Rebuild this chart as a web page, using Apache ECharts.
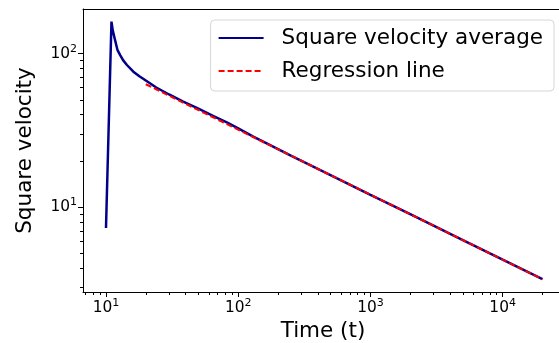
<!DOCTYPE html>
<html><head><meta charset="utf-8">
<script src="https://cdn.jsdelivr.net/npm/echarts@6/dist/echarts.min.js"></script>
<style>html,body{margin:0;padding:0;background:#fff}#c{width:559px;height:343px}</style>
</head><body><div id="c"></div>
<script>
// Data
const timeValues = [10, 11, 11.25, 11.7, 12.2, 12.8, 13.5, 14.4, 16.1, 18, 20, 24, 30, 38, 50, 65, 82, 100, 130, 170, 250, 400, 1000, 2000, 5000, 10000, 20000];
const velocityValues = [7.3, 162, 142, 123, 106, 98, 90.5, 84.4, 76.3, 71, 66.8, 60.2, 54.2, 48.8, 43.8, 39.2, 35.6, 32.6, 28.8, 25.6, 21.6, 17.7, 12.0, 8.97, 6.08, 4.53, 3.38];
const regressionTime = [20, 20000];
const regressionValues = [63.2, 3.38];
const xRange = [6.7, 28600];
const yRange = [2.79, 195.7];
const xMajorTicks = [10, 100, 1000, 10000];
const yMajorTicks = [10, 100];

const font = 'DejaVu Sans';
function minorLogs(lo, hi) {
  const out = [];
  for (let e = Math.floor(Math.log10(lo)); e <= Math.ceil(Math.log10(hi)); e++) {
    for (let k = 2; k <= 9; k++) {
      const v = k * Math.pow(10, e);
      if (v >= lo && v <= hi) out.push(Math.log10(v));
    }
  }
  return out;
}
const supFmt = v => '{b|10}{s|' + Math.round(Math.log10(v)) + '}';
const rich = {
  b: {fontSize: 15.4, fontFamily: font, color: '#000'},
  s: {fontSize: 11, fontFamily: font, color: '#000', padding: [0, 0, 9, 0]}
};

const chart = echarts.init(document.getElementById('c'), null, {renderer: 'canvas'});
chart.setOption({
  animation: false,
  backgroundColor: '#fff',
  grid: {left: 83, top: 9, right: -4, bottom: 51, containLabel: false, outerBoundsMode: 'none'},
  legend: {
    show: true,
    orient: 'vertical', right: 5, top: 20,
    data: ['Square velocity average', 'Regression line'],
    itemWidth: 45, itemHeight: 14, itemGap: 9,
    padding: [6, 11, 8, 7],
    borderColor: '#d6d6d6', borderWidth: 1, borderRadius: 4,
    backgroundColor: '#ffffff',
    itemStyle: {opacity: 0},
    textStyle: {fontFamily: font, fontSize: 21.5, lineHeight: 24, color: '#000', padding: [0, 0, 0, 13]}
  },
  xAxis: [
    {type: 'log', logBase: 10, min: xRange[0], max: xRange[1], position: 'bottom',
     name: 'Time (t)', nameLocation: 'middle', nameGap: 27,
     nameTextStyle: {fontFamily: font, fontSize: 21.5, color: '#000'},
     axisLine: {show: true, lineStyle: {color: '#000', width: 1}},
     axisTick: {show: true, length: 5, inside: false, lineStyle: {color: '#000'}, customValues: xMajorTicks},
     axisLabel: {show: true, margin: 6, formatter: supFmt, rich: rich, customValues: xMajorTicks},
     splitLine: {show: false}, minorTick: {show: false}},
    {type: 'value', min: Math.log10(xRange[0]), max: Math.log10(xRange[1]), position: 'bottom', offset: 0,
     axisLine: {show: false}, axisLabel: {show: false}, splitLine: {show: false},
     axisTick: {show: true, length: 3, lineStyle: {color: '#000'}, customValues: minorLogs(xRange[0], xRange[1])}},
    {type: 'value', min: 0, max: 1, position: 'top', offset: 0,
     axisLine: {show: true, lineStyle: {color: '#000', width: 1}}, axisLabel: {show: false}, axisTick: {show: false}, splitLine: {show: false}}
  ],
  yAxis: [
    {type: 'log', logBase: 10, min: yRange[0], max: yRange[1], position: 'left',
     name: 'Square velocity', nameLocation: 'middle', nameGap: 47,
     nameTextStyle: {fontFamily: font, fontSize: 21.5, color: '#000'},
     axisLine: {show: true, lineStyle: {color: '#000', width: 1}},
     axisTick: {show: true, length: 5, lineStyle: {color: '#000'}, customValues: yMajorTicks},
     axisLabel: {show: true, margin: 6, formatter: supFmt, rich: rich, customValues: yMajorTicks},
     splitLine: {show: false}, minorTick: {show: false}},
    {type: 'value', min: Math.log10(yRange[0]), max: Math.log10(yRange[1]), position: 'left', offset: 0,
     axisLine: {show: false}, axisLabel: {show: false}, splitLine: {show: false},
     axisTick: {show: true, length: 3, lineStyle: {color: '#000'}, customValues: minorLogs(yRange[0], yRange[1])}}
  ],
  series: [
    {name: 'Square velocity average', type: 'line', xAxisIndex: 0, yAxisIndex: 0,
     data: timeValues.map((t, i) => [t, velocityValues[i]]),
     showSymbol: false, symbol: 'none', smooth: false,
     lineStyle: {color: '#00008b', width: 2.5}, itemStyle: {color: '#00008b'}, z: 2},
    {name: 'Regression line', type: 'line', xAxisIndex: 0, yAxisIndex: 0,
     data: regressionTime.map((t, i) => [t, regressionValues[i]]),
     showSymbol: false, symbol: 'none',
     lineStyle: {color: '#ff0000', width: 2, type: [6, 3]}, itemStyle: {color: '#ff0000'}, z: 3}
  ]
});
</script></body></html>
